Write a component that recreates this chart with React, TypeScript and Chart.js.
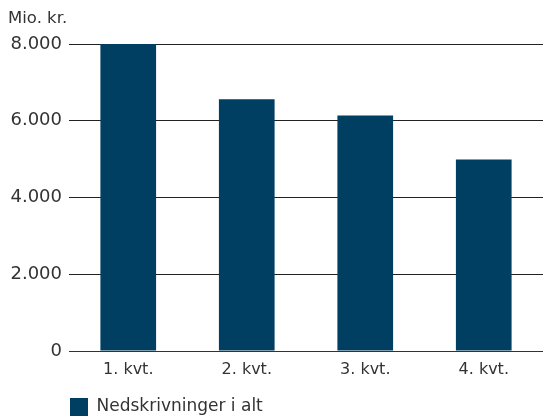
import React, { useEffect, useRef } from "react";
import { Chart, registerables } from "chart.js";

Chart.register(...registerables);

const categories = ["1. kvt.", "2. kvt.", "3. kvt.", "4. kvt."];
const seriesLabel = "Nedskrivninger i alt";
const seriesValues = [8000, 6560, 6140, 4990];
const yMin = 0;
const yMax = 8000;
const yStep = 2000;
const unitLabel = "Mio. kr.";

const FONT = "'DejaVu Sans', sans-serif";
const TEXT = "#333333";
const BAR = "#003f62";

export default function App() {
  const ref = useRef<HTMLCanvasElement | null>(null);

  useEffect(() => {
    document.body.style.margin = "0";
    const canvas = ref.current;
    if (!canvas) return;

    const unitPlugin = {
      id: "unitLabel",
      afterDraw(chart: any) {
        const ctx = chart.ctx;
        ctx.save();
        ctx.font = `16.5px ${FONT}`;
        ctx.fillStyle = TEXT;
        ctx.textBaseline = "middle";
        ctx.textAlign = "left";
        ctx.fillText(unitLabel, 8, 19);
        ctx.restore();
      },
    };

    const chart = new Chart(canvas, {
      type: "bar",
      data: {
        labels: categories,
        datasets: [
          {
            label: seriesLabel,
            data: seriesValues,
            backgroundColor: BAR,
            borderWidth: 0,
            barPercentage: 0.47,
            categoryPercentage: 1,
          },
        ],
      },
      options: {
        animation: false,
        responsive: false,
        maintainAspectRatio: false,
        layout: { padding: { left: 8, top: 44, right: 0, bottom: -9 } },
        plugins: {
          title: { display: false },
          tooltip: { enabled: false },
          legend: {
            display: true,
            position: "bottom",
            align: "start",
            fullSize: false,
            labels: {
              boxWidth: 18,
              boxHeight: 18,
              padding: 1,
              color: TEXT,
              font: { family: FONT, size: 17 },
            },
          },
        },
        scales: {
          x: {
            grid: { display: false, drawTicks: false },
            border: { display: true, color: "#333333", width: 1 },
            ticks: {
              color: TEXT,
              padding: 9,
              font: { family: FONT, size: 16 },
            },
            afterFit(scale: any) {
              scale.height = 46;
            },
          },
          y: {
            min: yMin,
            max: yMax,
            grid: { color: "#222222", lineWidth: 1, drawTicks: false },
            border: { display: false },
            ticks: {
              stepSize: yStep,
              color: TEXT,
              padding: 7,
              font: { family: FONT, size: 18 },
              callback: (v: any) =>
                Number(v).toLocaleString("da-DK").replace(/,/g, "."),
            },
            afterFit(scale: any) {
              scale.width = 61;
            },
          },
        },
      },
      plugins: [unitPlugin],
    });

    return () => chart.destroy();
  }, []);

  return (
    <div style={{ width: 543, height: 417 }}>
      <canvas ref={ref} width={543} height={417} style={{ display: "block" }} />
    </div>
  );
}
